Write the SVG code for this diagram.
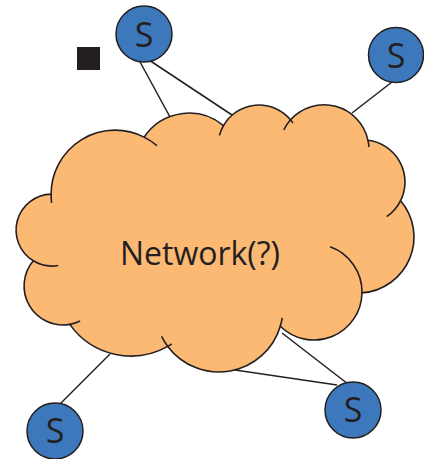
<svg xmlns="http://www.w3.org/2000/svg" width="424" height="459" viewBox="0 0 424 459">
<style>
.ln{stroke:#231F20;stroke-width:1.5;fill:none}
.cloud{fill:#FBB974;stroke:#231F20;stroke-width:1.6}
.tail{fill:none;stroke:#231F20;stroke-width:1.6}
.srv circle{fill:#3E78BC;stroke:#231F20;stroke-width:1.5}
.srv text{font-family:"Open Sans","Noto Sans",sans-serif;font-size:34px;fill:#231F20;text-anchor:middle}
.lbl{font-family:"Open Sans","Noto Sans",sans-serif;font-size:32px;fill:#231F20;text-anchor:middle}
</style>
<g id="connectors">
<line class="ln" x1="139" y1="60" x2="170" y2="117"/>
<line class="ln" x1="149" y1="60" x2="232" y2="115"/>
<line class="ln" x1="392" y1="82" x2="352" y2="113"/>
<line class="ln" x1="60" y1="404" x2="110" y2="354"/>
<line class="ln" x1="348" y1="384" x2="282" y2="333"/>
<line class="ln" x1="337" y1="385" x2="235" y2="370"/>
</g>
<g id="network">
<path class="cloud" d="M51.1,194.1 A64,64 0 0 1 144.1,137.1 A54,54 0 0 1 223.5,125.6 A41,41 0 0 1 290.5,119.8 A45,45 0 0 1 368,140.3 A42,42 0 0 1 400.6,200.7 A56,56 0 0 1 362,292.9 A48,48 0 0 1 280.3,326.2 A64,64 0 0 1 167.8,346.4 A75,75 0 0 1 69.8,324.4 A39,39 0 0 1 33.3,260.8 A36,36 0 0 1 51.1,194.1 Z"/>
<path class="tail" d="M51.1,194.1 A64,64 0 0 0 51.6,202.9 M144.1,137.1 A64,64 0 0 1 157,145.7 M223.5,125.6 A41,41 0 0 0 219.4,135.4 M290.5,119.8 A41,41 0 0 1 293,123.1 M290.5,119.8 A45,45 0 0 0 283.8,129.9 M368,140.3 A45,45 0 0 1 368.9,147 M400.6,200.7 A42,42 0 0 1 386.7,216.7 M362,292.9 A48,48 0 0 0 330.1,246.8 M280.3,326.2 A64,64 0 0 0 282.2,317.9 M167.8,346.4 A64,64 0 0 1 161.6,336.3 M167.8,346.4 A75,75 0 0 0 171.8,343.9 M69.8,324.4 A39,39 0 0 0 80.1,321.05 M33.3,260.8 A36,36 0 0 0 58.3,265.5"/>
<text class="lbl" x="200" y="265">Network(?)</text>
</g>
<g id="marker">
<rect x="77" y="47" width="23" height="23" fill="#231F20"/>
</g>
<g id="s1" class="srv"><circle cx="144" cy="34" r="28"/><text x="144" y="47">S</text></g>
<g id="s2" class="srv"><circle cx="396" cy="55" r="27.5"/><text x="396" y="68">S</text></g>
<g id="s3" class="srv"><circle cx="55" cy="431" r="28"/><text x="55" y="443">S</text></g>
<g id="s4" class="srv"><circle cx="353" cy="410" r="28"/><text x="353" y="422">S</text></g>
</svg>
